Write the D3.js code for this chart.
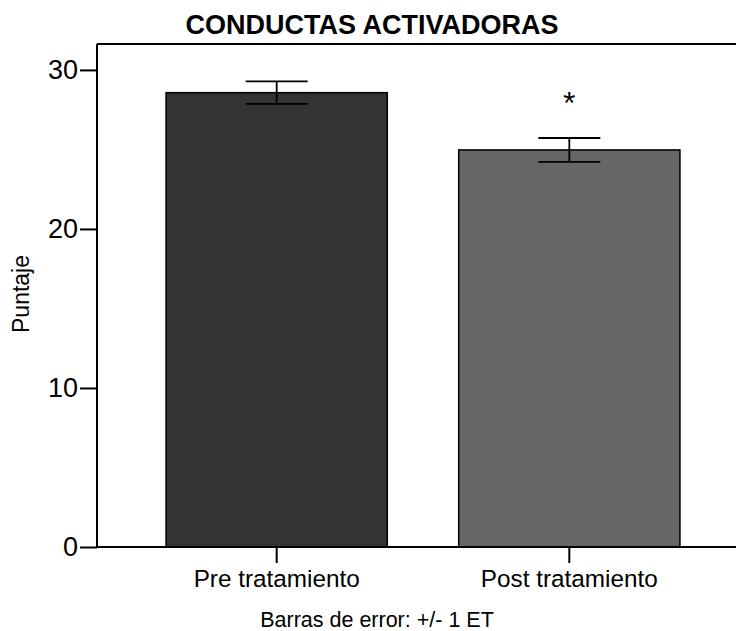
<!DOCTYPE html>
<html>
<head>
<meta charset="utf-8">
<script src="https://cdn.jsdelivr.net/npm/d3@7"></script>
<style>
  html, body { margin: 0; padding: 0; background: #fff; }
  svg { display: block; font-family: "Liberation Sans", Arial, Helvetica, sans-serif; }
</style>
</head>
<body>
<svg id="chart" width="736" height="631"></svg>
<script>
// Puntaje medio de conductas activadoras, antes y después del tratamiento
const categories = ["Pre tratamiento", "Post tratamiento"];
const means = [28.57, 24.97];
const stdErrors = [0.71, 0.75];
const significance = ["", "*"];
const barColors = ["#333333", "#666666"];
const yTicks = [0, 10, 20, 30];

const svg = d3.select("#chart");
const plot = { left: 97, right: 749, top: 44, bottom: 547 };

const x = d3.scaleBand()
  .domain(categories)
  .range([plot.left, plot.right])
  .paddingInner(0.244)
  .paddingOuter(0.236);

const y = d3.scaleLinear()
  .domain([0, 31.63])
  .range([plot.bottom, plot.top]);

// Título
svg.append("text")
  .attr("x", 372)
  .attr("y", 34)
  .attr("text-anchor", "middle")
  .attr("font-size", 27)
  .attr("font-weight", "bold")
  .attr("fill", "#000")
  .text("CONDUCTAS ACTIVADORAS");

// Marco superior
svg.append("line")
  .attr("x1", plot.left).attr("x2", 736)
  .attr("y1", plot.top).attr("y2", plot.top)
  .attr("stroke", "#000").attr("stroke-width", 2);

// Barras
svg.append("g").selectAll("rect")
  .data(categories)
  .join("rect")
  .attr("x", d => x(d))
  .attr("width", x.bandwidth())
  .attr("y", (d, i) => y(means[i]))
  .attr("height", (d, i) => y(0) - y(means[i]))
  .attr("fill", (d, i) => barColors[i])
  .attr("stroke", "#000")
  .attr("stroke-width", 1.5);

// Barras de error (+/- 1 ET)
const capHalf = 31;
const eb = svg.append("g").attr("stroke", "#000").attr("stroke-width", 1.8);
categories.forEach((c, i) => {
  const cx = x(c) + x.bandwidth() / 2;
  const hi = y(means[i] + stdErrors[i]);
  const lo = y(means[i] - stdErrors[i]);
  eb.append("line").attr("x1", cx).attr("x2", cx).attr("y1", hi).attr("y2", lo);
  eb.append("line").attr("x1", cx - capHalf).attr("x2", cx + capHalf).attr("y1", hi).attr("y2", hi);
  eb.append("line").attr("x1", cx - capHalf).attr("x2", cx + capHalf).attr("y1", lo).attr("y2", lo);
});

// Marca de significación
svg.append("g").selectAll("text")
  .data(categories)
  .join("text")
  .attr("x", d => x(d) + x.bandwidth() / 2)
  .attr("y", (d, i) => y(means[i] + stdErrors[i]) - 24)
  .attr("text-anchor", "middle")
  .attr("font-size", 32)
  .attr("font-weight", 300)
  .attr("fill", "#000")
  .text((d, i) => significance[i]);

// Eje Y
const yAxis = svg.append("g")
  .attr("transform", `translate(${plot.left},0)`)
  .call(d3.axisLeft(y).tickValues(yTicks).tickSize(17).tickSizeOuter(0).tickPadding(2));
yAxis.select(".domain").attr("stroke", "#000").attr("stroke-width", 2)
  .attr("d", `M0,${plot.top}V${plot.bottom}`);
yAxis.selectAll(".tick line").attr("stroke", "#000").attr("stroke-width", 2);
yAxis.selectAll(".tick text")
  .attr("font-size", 27)
  .attr("font-family", "Liberation Sans, Arial, sans-serif")
  .attr("fill", "#000");

// Eje X
const xAxis = svg.append("g")
  .attr("transform", `translate(0,${plot.bottom})`)
  .call(d3.axisBottom(x).tickSize(16).tickSizeOuter(0).tickPadding(7));
xAxis.select(".domain").attr("stroke", "#000").attr("stroke-width", 2)
  .attr("d", `M${plot.left},0H736`);
xAxis.selectAll(".tick line").attr("stroke", "#000").attr("stroke-width", 2);
xAxis.selectAll(".tick text")
  .attr("font-size", 24.3)
  .attr("font-family", "Liberation Sans, Arial, sans-serif")
  .attr("fill", "#000");

// Título del eje Y
svg.append("text")
  .attr("transform", `translate(28.5,294) rotate(-90)`)
  .attr("text-anchor", "middle")
  .attr("font-size", 23)
  .attr("fill", "#000")
  .text("Puntaje");

// Nota al pie
svg.append("text")
  .attr("x", 377)
  .attr("y", 627)
  .attr("text-anchor", "middle")
  .attr("font-size", 21.5)
  .attr("fill", "#000")
  .text("Barras de error: +/- 1 ET");
</script>
</body>
</html>
